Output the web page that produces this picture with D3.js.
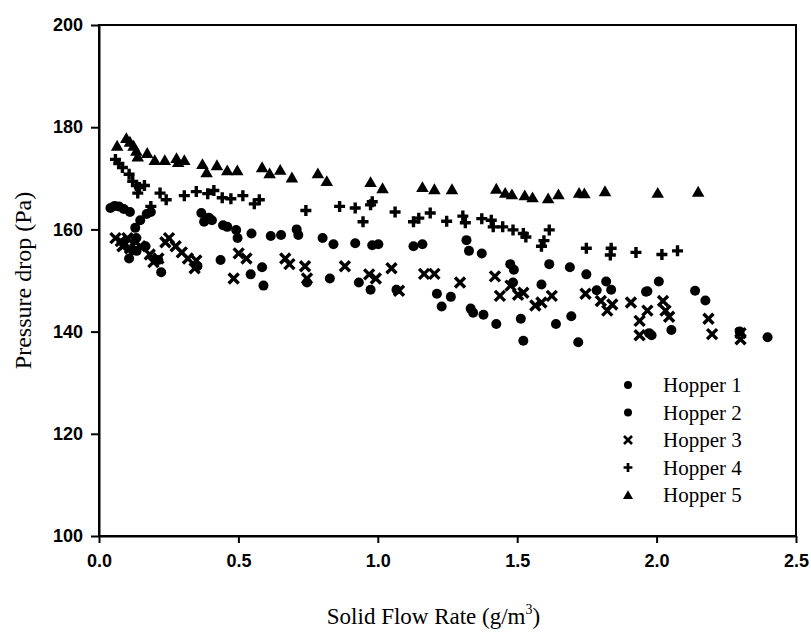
<!DOCTYPE html>
<html>
<head>
<meta charset="utf-8">
<script src="https://cdnjs.cloudflare.com/ajax/libs/d3/7.8.5/d3.min.js"></script>
<style>
    body { margin: 0; background: #fff; }
    svg { display: block; }
    .tick-label { font-family: "Liberation Sans", Arial, sans-serif; font-weight: bold; font-size: 18px; }
    .serif { font-family: "Liberation Serif", "Times New Roman", serif; }
</style>
</head>
<body>
<div class="canvas"><svg width="811" height="633"></svg></div>
<script>
    var width = 811;
    var height = 633;

    // axis ticks
    var xTicks = [0.0, 0.5, 1.0, 1.5, 2.0, 2.5];
    var yTicks = [100, 120, 140, 160, 180, 200];

    // data: [solid flow rate, pressure drop]
    var hopper1 = [[0.041,164.2],[0.056,164.6],[0.071,164.5],[0.089,164.0],[0.111,163.4],[0.130,160.3],[0.148,161.8],
        [0.171,163.0],[0.186,163.4],[0.367,163.2],[0.377,161.5],[0.394,162.3],[0.405,161.8],[0.445,160.8],[0.460,160.5],
        [0.492,159.9],[0.497,158.3],[0.547,159.2],[0.616,158.7],[0.653,158.9],[0.709,160.0],[0.715,158.9],[0.802,158.3],
        [0.841,157.1],[0.919,157.3],[0.980,156.9],[1.002,157.1],[1.128,156.7],[1.160,157.1],[1.318,157.9],[1.327,155.8],
        [1.373,155.3],[1.475,153.2],[1.488,152.1],[1.587,149.2],[1.615,153.2],[1.689,152.6],[1.748,151.2],[1.819,149.8],
        [1.967,147.9],[2.008,149.8],[2.138,148.0],[2.175,146.1]];

    var hopper2 = [[0.134,158.3],[0.108,154.3],[0.121,155.9],[0.167,156.7],[0.135,155.8],[0.213,154.0],[0.223,151.6],
        [0.353,152.8],[0.436,154.0],[0.544,151.2],[0.585,152.6],[0.590,149.0],[0.746,149.6],[0.828,150.4],[0.932,149.6],
        [0.974,148.2],[1.067,148.2],[1.212,147.4],[1.229,144.9],[1.262,146.8],[1.333,144.5],[1.342,143.7],[1.379,143.3],
        [1.425,141.5],[1.485,149.6],[1.513,142.5],[1.522,138.2],[1.639,141.5],[1.694,143.0],[1.719,137.9],[1.785,148.1],
        [1.837,148.2],[1.962,147.8],[1.982,139.3],[1.973,139.7],[2.053,140.3],[2.298,140.0],[2.398,138.9]];

    var hopper3 = [[0.059,158.3],[0.078,157.7],[0.093,157.1],[0.102,158.3],[0.130,157.7],[0.148,156.7],[0.111,156.3],
        [0.084,156.7],[0.182,155.1],[0.195,153.6],[0.213,154.3],[0.238,157.5],[0.251,158.3],[0.275,156.7],[0.297,155.5],
        [0.319,154.3],[0.343,152.4],[0.349,153.9],[0.483,150.4],[0.501,155.3],[0.529,154.3],[0.668,154.3],[0.683,153.2],
        [0.739,152.8],[0.746,150.4],[0.882,152.8],[0.969,151.2],[0.993,150.4],[1.049,152.4],[1.076,148.0],[1.166,151.3],
        [1.203,151.3],[1.295,149.6],[1.420,150.8],[1.438,147.0],[1.476,149.0],[1.503,147.2],[1.522,147.6],[1.565,145.1],
        [1.587,145.7],[1.624,147.0],[1.745,147.4],[1.800,146.0],[1.823,144.1],[1.841,145.3],[1.908,145.7],[1.939,142.1],
        [1.967,144.1],[1.939,139.3],[2.023,146.0],[2.032,144.1],[2.045,142.9],[2.186,142.5],[2.199,139.5],[2.301,138.5],
        [2.301,139.7]];

    var hopper4 = [[0.059,173.7],[0.071,172.9],[0.084,172.1],[0.108,170.8],[0.121,169.4],[0.134,168.6],[0.145,168.2],
        [0.163,168.6],[0.139,167.1],[0.186,164.5],[0.219,167.1],[0.241,165.8],[0.306,166.6],[0.349,167.4],[0.390,167.0],
        [0.412,167.6],[0.442,166.2],[0.473,166.0],[0.516,166.6],[0.557,165.0],[0.575,165.8],[0.742,163.7],[0.863,164.5],
        [0.919,164.2],[0.947,161.5],[0.974,164.8],[0.980,165.4],[1.062,163.4],[1.128,161.5],[1.147,162.2],[1.188,163.2],
        [1.247,161.6],[1.305,162.6],[1.314,161.3],[1.373,162.1],[1.407,161.8],[1.414,160.5],[1.448,160.5],[1.485,159.9],
        [1.522,159.2],[1.531,158.5],[1.587,156.7],[1.596,157.8],[1.615,159.9],[1.748,156.3],[1.837,156.3],[1.834,155.0],
        [1.926,155.5],[2.019,155.1],[2.075,155.8]];

    var hopper5 = [[0.065,176.3],[0.098,177.8],[0.111,177.1],[0.124,176.3],[0.134,175.3],[0.139,174.2],[0.173,174.9],
        [0.200,173.5],[0.236,173.5],[0.278,173.9],[0.284,173.1],[0.306,173.5],[0.371,172.7],[0.386,171.1],[0.423,172.5],
        [0.460,171.5],[0.496,171.5],[0.585,172.1],[0.612,170.9],[0.650,171.6],[0.692,170.1],[0.785,170.9],[0.817,169.4],
        [0.974,169.2],[1.017,168.0],[1.160,168.2],[1.203,167.8],[1.266,167.8],[1.425,167.9],[1.457,167.1],[1.481,166.8],
        [1.527,166.6],[1.555,166.2],[1.611,166.0],[1.648,166.8],[1.722,167.1],[1.741,167.0],[1.815,167.4],[2.004,167.1],
        [2.149,167.3]];

    var legendNames = ["Hopper 1", "Hopper 2", "Hopper 3", "Hopper 4", "Hopper 5"];
    var legendShapes = ["circle", "circle", "cross", "plus", "triangle"];

    var svg = d3.select(".canvas").select("svg");

    var plotLeft = 99, plotRight = 796, plotTop = 25, plotBottom = 536;

    var scaleX = d3.scaleLinear().domain([0, 2.5]).range([plotLeft, plotRight]);
    var scaleY = d3.scaleLinear().domain([100, 200]).range([plotBottom, plotTop]);

    // frame
    svg.append("rect")
        .attr("x", plotLeft).attr("y", plotTop)
        .attr("width", plotRight - plotLeft).attr("height", plotBottom - plotTop)
        .style("fill", "none").style("stroke", "#000").style("stroke-width", 2);

    var axisX = d3.axisBottom(scaleX).tickValues(xTicks).tickSize(7).tickSizeOuter(0)
        .tickFormat(d3.format(".1f"));
    var axisY = d3.axisLeft(scaleY).tickValues(yTicks).tickSize(8).tickSizeOuter(0)
        .tickFormat(d3.format("d"));

    var gx = svg.append("g").attr("class", "axis axis-x")
        .attr("transform", "translate(0," + plotBottom + ")")
        .call(axisX);
    var gy = svg.append("g").attr("class", "axis axis-y")
        .attr("transform", "translate(" + plotLeft + ",0)")
        .call(axisY);

    svg.selectAll(".axis .domain").style("stroke", "#000").style("stroke-width", 2);
    svg.selectAll(".axis .tick line").style("stroke", "#000").style("stroke-width", 2);
    svg.selectAll(".axis").attr("font-size", null).attr("font-family", null);
    svg.selectAll(".axis text").attr("class", "tick-label").style("fill", "#000");
    gx.selectAll("text").attr("y", 18);
    gy.selectAll("text").attr("x", -16);

    // axis titles
    var xt = svg.append("text").attr("class", "serif")
        .attr("x", (plotLeft + plotRight) / 2 - 14).attr("y", 624)
        .attr("text-anchor", "middle")
        .style("font-size", "23px");
    xt.append("tspan").text("Solid Flow Rate (g/m");
    xt.append("tspan").attr("dy", -10).style("font-size", "14px").text("3");
    xt.append("tspan").attr("dy", 10).text(")");

    svg.append("text").attr("class", "serif")
        .attr("transform", "translate(31," + ((plotTop + plotBottom) / 2) + ") rotate(-90)")
        .attr("text-anchor", "middle")
        .style("font-size", "24px")
        .text("Pressure drop (Pa)");

    // markers
    function drawMarker(sel, shape, s) {
        if (shape == "circle") {
            sel.append("circle").attr("r", 5 * s).style("fill", "#000");
        } else if (shape == "triangle") {
            sel.append("path").attr("d", d3.symbol().type(d3.symbolTriangle).size(68 * s * s)())
                .attr("transform", "translate(0,1)")
                .style("fill", "#000");
        } else if (shape == "cross") {
            var r = 5 * s;
            sel.append("path").attr("d", "M" + (-r) + "," + (-r) + "L" + r + "," + r + "M" + (-r) + "," + r + "L" + r + "," + (-r))
                .style("stroke", "#000").style("stroke-width", 3.4 * s).style("fill", "none");
        } else {
            var p = 5.5 * s;
            sel.append("path").attr("d", "M" + (-p) + ",0L" + p + ",0M0," + (-p) + "L0," + p)
                .style("stroke", "#000").style("stroke-width", 3.4 * s).style("fill", "none");
        }
    }

    var series = [hopper1, hopper2, hopper3, hopper4, hopper5];
    var plot = svg.append("g");

    series.forEach(function(data, i) {
        plot.append("g").selectAll("g")
            .data(data)
            .enter()
            .append("g")
            .attr("transform", function(d) {
                return "translate(" + scaleX(d[0]) + "," + scaleY(d[1]) + ")";
            })
            .each(function() { drawMarker(d3.select(this), legendShapes[i], 1); });
    });

    // legend
    var legend = svg.append("g");
    var legendY = d3.scalePoint().domain(legendNames).range([385, 495]);

    legendNames.forEach(function(name, i) {
        var row = legend.append("g").attr("transform", "translate(628," + legendY(name) + ")");
        drawMarker(row, legendShapes[i], 0.8);
        row.append("text").attr("class", "serif")
            .attr("x", 35).attr("dy", "0.35em")
            .style("font-size", "21px")
            .text(name);
    });
</script>
</body>
</html>
